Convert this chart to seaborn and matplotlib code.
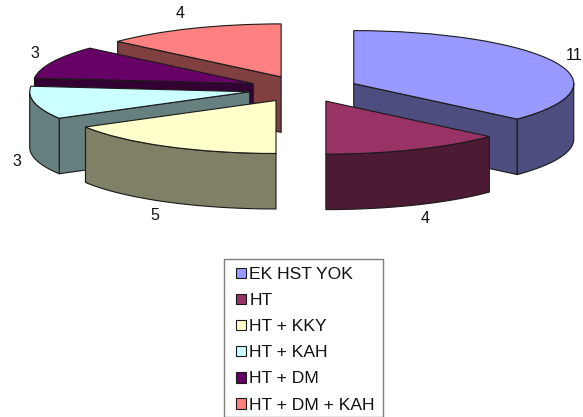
import numpy as np
import matplotlib
matplotlib.use("Agg")
import matplotlib.pyplot as plt
from matplotlib.patches import Polygon, Rectangle
import seaborn as sns

# Treatment groups and patient counts
categories = ["EK HST YOK", "HT", "HT + KKY", "HT + KAH", "HT + DM", "HT + DM + KAH"]
counts = [11, 4, 5, 3, 3, 4]
slice_colors = ["#9999FF", "#993366", "#FFFFCC", "#CCFFFF", "#660066", "#FF8080"]

sns.set_theme(style="white")
plt.rcParams["font.family"] = ["Liberation Sans", "DejaVu Sans"]

W, H = 583, 417
RX, RY = 220.0, 53.0      # pixel size of one pie radius, across and up
CX, CY = 303.5, 89.0      # pixel position of the pie centre
DEPTH = 55.5 / RY         # thickness of the disc in y units
EXPLODE = 0.25
EDGE = "#1a1a1a"
LW = 0.8

palette = sns.color_palette(slice_colors)
fig = plt.figure(figsize=(W / 100, H / 100), dpi=100, facecolor="white")
ax = fig.add_axes([0, 0, 1, 1])

wedges, _ = ax.pie(
    counts, explode=[EXPLODE] * len(counts), colors=palette, startangle=90,
    counterclock=False, wedgeprops=dict(edgecolor=EDGE, linewidth=LW),
)
ax.set_aspect("auto")
ax.set_xlim(-CX / RX, (W - CX) / RX)
ax.set_ylim((CY - H) / RY, CY / RY)
ax.set_axis_off()


def point(angle, center, radius=1.0):
    """Position on the rim, with the angle running clockwise from the top."""
    return center + radius * np.array([np.sin(angle), np.cos(angle)])


def side(points, color, z):
    """Extrude a path downward into a closed side face."""
    top = np.asarray(points)
    bottom = top - [0, DEPTH]
    ax.add_patch(Polygon(np.vstack([top, bottom[::-1]]), closed=True, facecolor=color,
                         edgecolor=EDGE, linewidth=LW, joinstyle="round", zorder=z))


edges = 2 * np.pi * np.concatenate([[0], np.cumsum(counts)]) / np.sum(counts)
# Paint the left group and the right group from the back forward
paint_rank = [1, 2, 5, 4, 3, 2]

for i, wedge in enumerate(wedges):
    start, end = edges[i], edges[i + 1]
    middle = (start + end) / 2
    center = EXPLODE * np.array([np.sin(middle), np.cos(middle)])
    dark = tuple(0.5 * c for c in palette[i])
    z = 2 + paint_rank[i] * 2
    # Radial cut faces that turn toward the viewer
    if np.sin(end) > 1e-6:
        side([center, point(end, center)], dark, z)
    if np.sin(start) < -1e-6:
        side([center, point(start, center)], dark, z)
    # Front part of the curved rim
    lo, hi = max(start, np.pi / 2), min(end, 3 * np.pi / 2)
    if hi > lo:
        arc = np.linspace(lo, hi, 60)
        side([point(a, center) for a in arc], dark, z)
    wedge.set_zorder(z + 1)


def fig_xy(px, py):
    return px / W, 1 - py / H


# Count labels beside each slice
label_px = [(574, 55), (425, 219), (155, 216), (17, 161), (35, 54), (180, 13)]
for n, (px, py) in zip(counts, label_px):
    fig.text(*fig_xy(px, py), str(n), ha="center", va="center", fontsize=11.5, color="#111111")

# Legend box with its own frame so the inner margins can differ per side
frame_x, frame_y = fig_xy(224, 416.5)
ax.add_patch(Rectangle((frame_x, frame_y), 159 / W, 157.5 / H, transform=fig.transFigure,
                       facecolor="white", edgecolor="#7f7f7f", linewidth=1.0, zorder=39))
legend = ax.legend(
    wedges, categories, loc="upper left", bbox_to_anchor=fig_xy(236, 267),
    bbox_transform=fig.transFigure, borderaxespad=0, fontsize=12.6, frameon=False,
    handlelength=0.55, handleheight=0.55, handletextpad=0.22, labelspacing=0.635,
    borderpad=0, labelcolor="#111111",
)
legend.set_zorder(40)

fig.savefig("out.png", dpi=100, facecolor="white")
